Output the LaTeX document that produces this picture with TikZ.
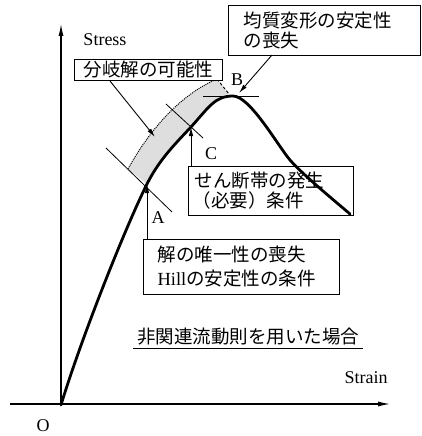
\documentclass[tikz,border=0pt]{standalone}
\usepackage{fontspec}
\setmainfont{Liberation Serif}
\newfontfamily\jp{Noto Sans CJK JP}
\usetikzlibrary{arrows.meta}
\begin{document}
\begin{tikzpicture}[x=1pt,y=-1pt,
  lat/.style={font=\fontsize{18}{20}\selectfont, inner sep=0pt},
  jptext/.style={font=\jp\fontsize{18.5}{20}\selectfont},
  box/.style={draw, line width=1pt, fill=white, inner xsep=0pt, inner ysep=0pt, align=left, jptext},
  arr/.style={line width=0.9pt, -{Latex[length=9pt,width=4.5pt]}},
  thin/.style={line width=0.8pt},
  axis/.style={line width=1.1pt, -{Latex[length=12pt,width=5pt]}}]
\useasboundingbox (0,0) rectangle (421,436);
% axes
\coordinate (o) at (61,405);
\coordinate (xend) at (390,404);
\coordinate (xstart) at (10,404);
\coordinate (yend) at (61,24);
\draw[axis] (xstart) -- (xend);
\draw[axis] (o) -- (yend);
\node[lat] (lstress) at (105,40) {Stress};
\node[lat] (lstrain) at (366,378) {Strain};
\node[lat] (lo) at (43,426) {O};
% key points
\coordinate (pA) at (147,184);
\coordinate (pC) at (191,127);
\coordinate (pB) at (233,96);
\coordinate (pD) at (290,160);
\coordinate (pE) at (350,214);
% band
\fill[black!13] (128,169) .. controls (145,138) and (175,97) .. (217,79) -- (229,94)
  .. controls (215,96) and (209,107) .. (pC) .. controls (175,144) and (159,160) .. (pA) -- cycle;
\draw[line width=1pt, densely dotted] (128,169) .. controls (145,138) and (175,97) .. (217,79);
\draw[line width=0.9pt, densely dashed] (217,79) -- (229,94);
% tangent lines
\draw[thin] (106,148) -- (172,212);
\draw[thin] (166,104) -- (203,138);
\draw[thin] (203,96) -- (259,96);
% labels
\node[lat] (la) at (158,218) {A};
\node[lat] (lc) at (211,154) {C};
\node[lat] (lb) at (237,80) {B};
% boxes
\node[box, anchor=north west, minimum width=191pt, minimum height=50pt, text width=162pt, inner xsep=15pt] (box1) at (228,5) {均質変形の安定性\\の喪失};
\node[box, anchor=north west, minimum width=148pt, minimum height=21pt, align=center] (box2) at (74,59) {分岐解の可能性};
\node[box, anchor=north west, minimum width=165pt, minimum height=49pt, text width=157pt, inner xsep=4pt] (boxC) at (188,166) {\hspace*{2pt}せん断帯の発生\\（必要）条件};
\node[box, anchor=north west, minimum width=196pt, minimum height=55pt, text width=168pt, inner xsep=14pt, font=\jp\fontsize{18.5}{24}\selectfont] (boxA) at (143,239) {解の唯一性の喪失\\{\rmfamily\fontsize{18.5}{24}\selectfont Hill}の安定性の条件};
% curve (drawn over box C, as in the reference)
\draw[line width=2.8pt, line join=round, line cap=round]
  (o) .. controls (81,339) and (125,228) .. (pA)
      .. controls (159,160) and (175,144) .. (pC)
      .. controls (209,107) and (215,96) .. (pB)
      .. controls (250,96) and (278,146) .. (pD)
      .. controls (302,174) and (336,202) .. (pE);
% connectors
\coordinate (b1s) at (272,55);
\coordinate (b1t) at (239,93);
\coordinate (b2s) at (110,81);
\coordinate (b2t) at (155,137);
\draw[arr] (b1s) -- (b1t);
\draw[arr] (b2s) -- (b2t);
\draw[arr] (pA |- boxA.north) -- (pA);
\draw[arr] (pC |- boxC.north) -- (pC);
% caption
\node[jptext, inner sep=0pt] (cap) at (248,337) {非関連流動則を用いた場合};
\draw[line width=0.8pt] (133,348) -- (363,348);
\end{tikzpicture}
\end{document}
